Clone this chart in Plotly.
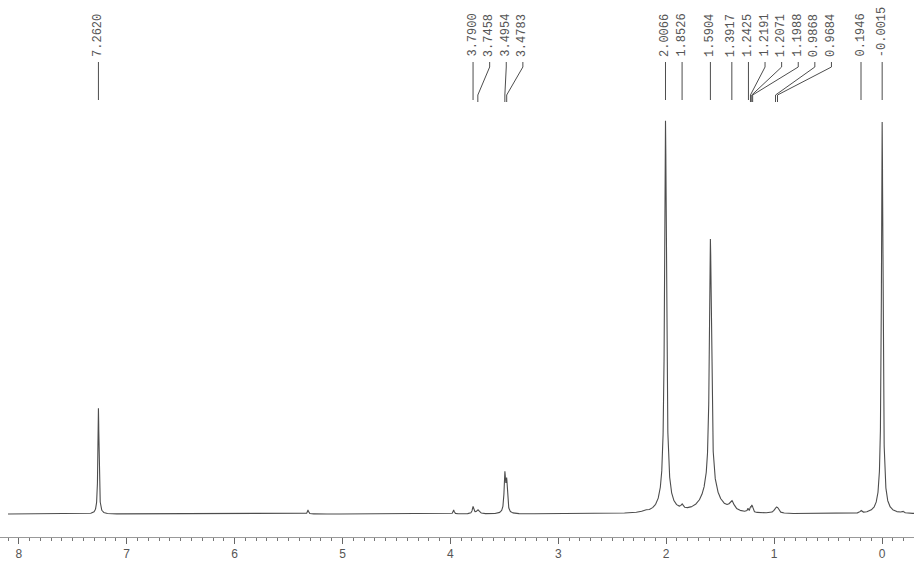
import numpy as np
import plotly.graph_objects as go

# ---------------- data ----------------
# resonance positions (ppm), peak heights (arbitrary units, tallest ~100) and half-widths (ppm)
SIGNAL_PPM = [7.2620, 5.32, 3.97, 3.7900, 3.7458, 3.4954, 3.4783, 2.20, 2.0066, 2.0066,
              1.8526, 1.5904, 1.5904, 1.3917, 1.2425, 1.2191, 1.2071, 1.1988, 0.9868,
              0.9684, 0.1946, -0.0015, -0.0015, -0.19]
SIGNAL_HEIGHT = [27.0, 1.0, 1.0, 1.8, 1.0, 9.5, 7.5, 0.4, 95.0, 5.0,
                 1.0, 63.0, 7.0, 2.2, 0.8, 1.0, 1.3, 1.0, 1.1,
                 1.1, 0.6, 97.0, 3.0, 0.5]
SIGNAL_HWHM = [0.006, 0.006, 0.006, 0.008, 0.015, 0.008, 0.008, 0.02, 0.010, 0.05,
               0.012, 0.011, 0.08, 0.025, 0.006, 0.006, 0.006, 0.006, 0.015,
               0.015, 0.010, 0.008, 0.04, 0.010]

# peak-picking labels printed above the spectrum
LABEL_PPM = [7.2620, 3.7900, 3.7458, 3.4954, 3.4783, 2.0066, 1.8526, 1.5904, 1.3917,
             1.2425, 1.2191, 1.2071, 1.1988, 0.9868, 0.9684, 0.1946, -0.0015]

TICK_VALUES = [8, 7, 6, 5, 4, 3, 2, 1, 0]
PPM_START, PPM_END = 8.10, -0.30

# ---------------- layout constants ----------------
W, H = 914, 564
PLOT_H = 537            # plot area height (px), axis line at bottom
PX_PER_PPM = 107.9
PX_ZERO = 882.0         # pixel of 0 ppm
Y0_PX, Y100_PX = 514.0, 122.0   # pixel of intensity 0 and 100

def ppm_to_px(p):
    return PX_ZERO - PX_PER_PPM * p

def px_to_ppm(x):
    return (PX_ZERO - x) / PX_PER_PPM

def paper_y(ypx):
    return 1 - ypx / PLOT_H

unit = (Y0_PX - Y100_PX) / 100.0
y_lo = -(PLOT_H - Y0_PX) / unit
y_hi = Y0_PX / unit

# ---------------- spectrum curve ----------------
ppm = np.arange(PPM_START, PPM_END, -0.0005)
inten = np.zeros_like(ppm)
for c, h, g in zip(SIGNAL_PPM, SIGNAL_HEIGHT, SIGNAL_HWHM):
    inten += h * g * g / ((ppm - c) ** 2 + g * g)

LINE = "#4d4d4d"
fig = go.Figure()
fig.add_trace(go.Scatter(x=ppm, y=inten, mode="lines",
                         line=dict(color=LINE, width=1.1), hoverinfo="skip",
                         showlegend=False))

# ---------------- peak labels with connectors ----------------
GAP = 16.6
clusters = []
for p in sorted(LABEL_PPM, reverse=True):
    px = ppm_to_px(p)
    if clusters:
        start, members = clusters[-1]
        last = start + (len(members) - 1) * GAP
        if px < last + GAP + 2:
            members.append(p)
            continue
    clusters.append((px, [p]))

annotations = []
shapes = []
for start, members in clusters:
    for i, p in enumerate(members):
        lx = start + i * GAP
        px = ppm_to_px(p)
        lppm = px_to_ppm(lx)
        annotations.append(dict(
            x=lppm, xref="x", y=paper_y(59), yref="paper",
            text=f"{p:.4f}", showarrow=False, textangle=-90,
            xanchor="center", yanchor="bottom",
            font=dict(family="Liberation Mono", size=12, color="#555")))
        if abs(lx - px) < 0.6:
            path = f"M {lppm},{paper_y(62)} L {lppm},{paper_y(100)}"
        else:
            path = (f"M {lppm},{paper_y(62)} L {lppm},{paper_y(67)} "
                    f"L {p},{paper_y(95)} L {p},{paper_y(102)}")
        shapes.append(dict(type="path", path=path, xref="x", yref="paper",
                           line=dict(color=LINE, width=1)))

fig.update_layout(
    width=W, height=H,
    margin=dict(l=0, r=0, t=0, b=H - PLOT_H),
    paper_bgcolor="white", plot_bgcolor="white",
    annotations=annotations, shapes=shapes,
    xaxis=dict(range=[px_to_ppm(0), px_to_ppm(W)], showgrid=False, zeroline=False,
               showline=True, linecolor="#999", linewidth=1,
               ticks="outside", ticklen=6, tickcolor="#666", tickwidth=1,
               tickvals=TICK_VALUES, ticktext=[str(t) for t in TICK_VALUES],
               tickfont=dict(family="Liberation Sans", size=12, color="#555"),
               minor=dict(ticks="outside", dtick=0.1, ticklen=3, tickcolor="#777",
                          showgrid=False)),
    yaxis=dict(range=[y_lo, y_hi], visible=False, showgrid=False, zeroline=False),
)

fig.write_html(
    "out.html",
    config={"displayModeBar": False, "staticPlot": True},
    post_script="document.body.style.margin='0px';document.body.style.overflow='hidden';",
)
